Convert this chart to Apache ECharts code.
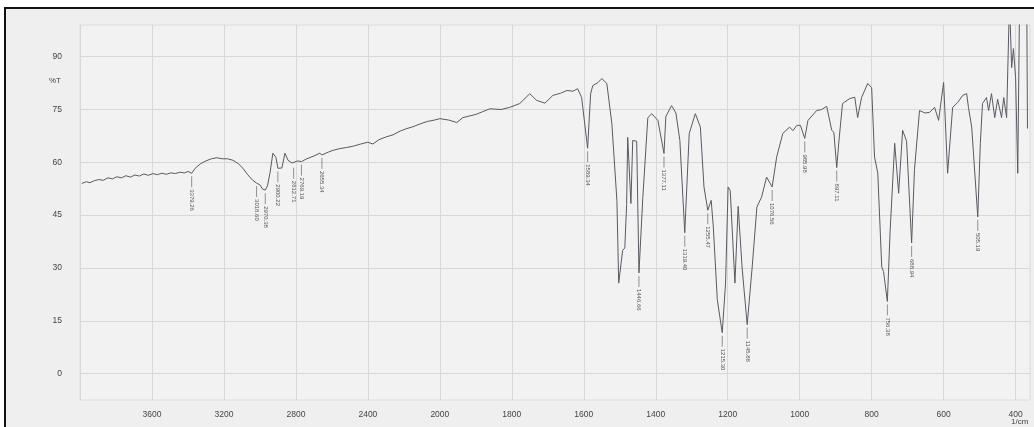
<!DOCTYPE html>
<html>
<head>
<meta charset="utf-8">
<script src="https://cdn.jsdelivr.net/npm/echarts@6/dist/echarts.min.js"></script>
<style>
html,body{margin:0;padding:0;background:#fff;}
#chart{width:1034px;height:427px;}
</style>
</head>
<body>
<div id="chart"></div>
<script>
// Wavenumbers (1/cm) and transmittance (%T)
const wavenumbers = [3990,3965,3945,3920,3895,3870,3845,3820,3795,3770,3745,3720,3695,3670,3645,3620,3595,3570,3545,3520,3495,3470,3445,3420,3400,3379.26,3360,3330,3300,3270,3240,3210,3180,3150,3120,3094,3070,3040,3018.6,3000,2985,2970.38,2958,2944,2928,2911,2900.22,2878,2861,2844,2822,2812.71,2790,2769.19,2740,2700,2667,2655.34,2620,2594,2556,2520,2480,2440,2400,2372,2340,2300,2260,2220,2183,2150,2110,2070,2030,2000,1975,1953,1936,1900,1861,1830,1806,1778,1750,1731,1708,1686,1665,1647,1630,1617,1606,1589.34,1581,1575,1560,1550,1536,1522,1508,1503,1492,1486,1481,1478,1469,1464,1453,1446.66,1436,1422,1411,1394,1377.11,1372,1356,1344,1333,1319.4,1307,1290,1276,1266,1255.47,1246,1240,1229,1215.3,1206,1199,1193,1180,1171,1160,1145.88,1132,1119,1106,1092,1076.56,1064,1047,1028,1019,1008,998,985.98,977,953,939,925,911,905,897.11,891,881,861,847,839,828,811,800,792,783,772,767,756.38,749,736,725,714,703,688.94,681,667,652,639,625,614,600,589,575,561,547,536,531,522,505.19,498,492,481,475,467,458,450,439,433,425,417,411,406,400,394,389,369,367];
const transmittance = [54.0,54.5,54.2,54.8,55.1,54.9,55.6,55.3,55.9,55.6,56.2,55.8,56.4,56.1,56.7,56.3,56.8,56.5,56.9,56.6,57.0,56.8,57.2,57.0,57.4,56.9,58.3,59.6,60.4,61.0,61.3,61.0,61.0,60.6,59.6,58.3,56.6,54.9,54.1,53.6,52.4,52.1,53.3,57.0,62.6,61.4,58.3,58.4,62.6,60.6,59.8,59.3,60.4,60.2,61.0,61.8,62.6,62.1,62.9,63.4,63.9,64.2,64.6,65.2,65.7,65.2,66.4,67.2,67.8,68.9,69.6,70.1,70.9,71.6,72.0,72.4,72.0,71.3,72.7,73.6,75.2,75.0,75.6,76.7,79.5,77.6,76.8,79.0,79.6,80.4,80.2,80.9,78.4,64.0,79.5,81.8,82.7,83.8,82.4,71.0,49.2,25.7,35.0,35.7,48.0,67.1,48.3,66.2,66.0,28.6,50.0,72.7,73.8,71.9,62.5,73.0,76.1,74.0,66.2,40.0,68.2,73.8,70.0,53.0,46.4,49.2,41.6,21.0,11.6,25.7,53.0,52.0,25.7,47.5,30.0,13.9,30.3,47.3,50.1,55.8,53.0,61.5,68.2,70.0,69.0,70.5,70.5,66.8,71.9,74.7,75.0,75.9,69.1,68.5,58.5,66.0,76.7,78.1,78.5,72.7,78.4,82.4,81.2,61.5,56.9,30.3,29.0,20.5,39.9,65.4,51.2,69.1,66.0,37.1,58.0,74.7,74.0,74.2,75.6,71.9,82.7,56.9,75.6,77.0,79.0,79.5,75.6,70.0,44.5,65.4,76.7,78.4,74.7,79.5,72.7,77.9,72.7,78.4,72.7,106,86.9,92.3,84.0,56.9,106,106,69.6];

// Labelled peaks
const peakWn = [3379.26,3018.6,2970.38,2900.22,2812.71,2769.19,2655.34,1589.34,1446.66,1377.11,1319.4,1255.47,1215.3,1145.88,1076.56,985.98,897.11,756.38,688.94,505.19];
const peakT = [56.9,54.1,52.1,58.3,59.3,60.2,62.1,64.0,28.6,62.5,40.0,46.4,11.6,13.9,53.0,66.8,58.5,20.5,37.1,44.5];
const peakLabels = ['3379.26','3018.60','2970.38','2900.22','2812.71','2769.19','2655.34','1589.34','1446.66','1377.11','1319.40','1255.47','1215.30','1145.88','1076.56','985.98','897.11','756.38','688.94','505.19'];

// Tick labels
const xTickLabels = [3600,3200,2800,2400,2000,1800,1600,1400,1200,1000,800,600,400];
const yTickLabels = [0,15,30,45,60,75,90];

// Instrument scale: 4000-2000 is drawn at half the scale of 2000-400
function toT(w){ return w <= 2000 ? w : 2000 + (w - 2000) / 2; }
function fromT(t){ return t <= 2000 ? t : 2000 + (t - 2000) * 2; }

const xTickT = xTickLabels.map(toT);
const chart = echarts.init(document.getElementById('chart'), null, {renderer:'canvas'});
const gridColor = '#d8d8d8';
const T = 'rgba(0,0,0,0)';

chart.setOption({
  backgroundColor: '#ffffff',
  animation: false,
  graphic: [
    {type:'rect', z:-100, shape:{x:5, y:8, width:1040, height:430}, style:{fill:'#efefef', stroke:'#111', lineWidth:2}},
    {type:'text', z:10, x:49, y:77, style:{text:'%T', fontSize:8, fill:'#444', fontFamily:'Liberation Sans'}},
    {type:'text', z:10, x:1011, y:418, style:{text:'1/cm', fontSize:8, fill:'#444', fontFamily:'Liberation Sans'}}
  ],
  grid: {left:80, right:4, top:25, bottom:27, show:true, backgroundColor:'#f2f2f2', borderColor:'#dcdcdc', borderWidth:1},
  xAxis: {
    type:'value', inverse:true, min:360, max:3000, interval:40,
    axisLine:{show:false}, axisTick:{show:false},
    axisLabel:{
      margin:10, fontSize:8.5, color:'#444', fontFamily:'Liberation Sans',
      formatter: v => xTickT.some(t => Math.abs(t - v) < 1e-6) ? String(fromT(v)) : ''
    },
    splitLine:{show:true, lineStyle:{color:[T,gridColor,T,T,T], width:1}}
  },
  yAxis: {
    type:'value', min:-7.5, max:99, interval:1.5,
    axisLine:{show:false}, axisTick:{show:false},
    axisLabel:{
      margin:18, fontSize:8.5, color:'#444', fontFamily:'Liberation Sans',
      formatter: v => yTickLabels.some(y => Math.abs(y - v) < 1e-6) ? String(Math.round(v)) : ''
    },
    splitLine:{show:true, lineStyle:{color:[T,T,T,T,T,gridColor,T,T,T,T], width:1}}
  },
  series: [
    {
      type:'line', showSymbol:false, clip:true,
      lineStyle:{color:'#5c5862', width:1},
      data: wavenumbers.map((w,i) => [toT(w), transmittance[i]])
    },
    {
      type:'custom', silent:true,
      data: peakWn.map((w,i) => [toT(w), peakT[i]]),
      renderItem: function(params, api){
        const p = api.coord([api.value(0), api.value(1)]);
        return {type:'group', children:[
          {type:'line', shape:{x1:p[0], y1:p[1]+3, x2:p[0], y2:p[1]+14}, style:{stroke:'#777', lineWidth:0.8}},
          {type:'text', x:p[0], y:p[1]+16, rotation:-Math.PI/2,
           style:{text:peakLabels[params.dataIndex], fontSize:6, fill:'#555', fontFamily:'Liberation Sans',
                  align:'left', verticalAlign:'middle', textAlign:'left', textVerticalAlign:'middle'}}
        ]};
      }
    }
  ]
});
</script>
</body>
</html>
